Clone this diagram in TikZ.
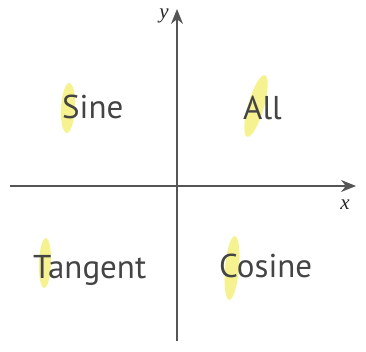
\documentclass[tikz,border=0pt]{standalone}
\usepackage{fontspec}
\usepackage{graphicx}
\setmainfont{Liberation Serif}
\newfontfamily\labfont{PT Sans}
\usetikzlibrary{arrows.meta}
\definecolor{axisgray}{HTML}{555555}
\definecolor{txtgray}{HTML}{444444}
\definecolor{hl}{HTML}{F2EE6A}
\begin{document}
\begin{tikzpicture}[x=1pt,y=-1pt,
  axis/.style={draw=axisgray,line width=1.4pt,-{Stealth[length=15pt,width=12pt]}},
  quad/.style={anchor=base west,inner sep=0pt,text=txtgray,font=\labfont\fontsize{33}{33}\selectfont},
  hilite/.style={fill=hl,opacity=0.75},
  axlab/.style={font=\itshape\fontsize{21}{21}\selectfont,text=black!85,inner sep=0pt}]
\useasboundingbox (0,0) rectangle (366,352);
\fill[hilite,rotate around={-3:(68,108)}] (68,108) ellipse [x radius=7,y radius=25];
\fill[hilite,rotate around={-16:(256,106)}] (256,106) ellipse [x radius=8,y radius=32];
\fill[hilite,rotate around={-2:(45,263)}] (45,263) ellipse [x radius=6,y radius=25];
\fill[hilite,rotate around={-5:(232,268)}] (232,268) ellipse [x radius=7,y radius=32];
\coordinate (xs) at (10,186);
\coordinate (xe) at (356,186);
\coordinate (ys) at (177,341);
\coordinate (ye) at (177,9);
\draw[axis] (xs) -- (xe);
\draw[axis] (ys) -- (ye);
\node[axlab] (xl) at (345,205) {x};
\node[axlab] (yl) at (164,16) {y};
\node[quad] (sine) at (62,119) {Sine};
\node[quad] (all) at (243,120) {All};
\node[quad] (tan) at (33,278) {Tangent};
\node[quad] (cos) at (219,277) {Cosine};
\end{tikzpicture}
\end{document}
